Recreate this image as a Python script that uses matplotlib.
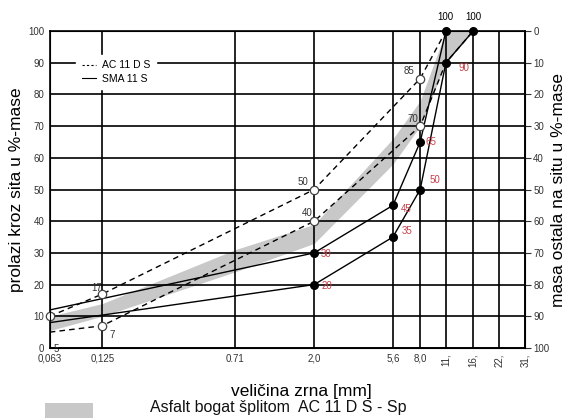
import matplotlib.pyplot as plt
import matplotlib.patches as mpatches
from matplotlib.lines import Line2D

plt.rcParams['font.family'] = ['Liberation Sans', 'DejaVu Sans']

# sita (mm)
sieves = [0.063, 0.125, 0.71, 2.0, 5.6, 8.0, 11.2, 16.0, 22.4, 31.5]
sieve_labels = ['0,063', '0,125', '0.71', '2,0', '5,6', '8,0', '11,', '16,', '22,', '31,']

# AC 11 D S granicne krivulje
ac_x_up = [0.063, 0.125, 2.0, 8.0, 11.2, 16.0]
ac_up = [10, 17, 50, 85, 100, 100]
ac_x_lo = [0.063, 0.125, 2.0, 8.0, 11.2, 16.0]
ac_lo = [5, 7, 40, 70, 90, 100]

# SMA 11 S granicne krivulje
sma_x_up = [0.063, 2.0, 5.6, 8.0, 11.2]
sma_up = [12, 30, 45, 65, 100]
sma_x_lo = [0.063, 2.0, 5.6, 8.0, 11.2, 16.0]
sma_lo = [8, 20, 35, 50, 90, 100]

# podrucje AC 11 D S - Sp
band_x = [0.063, 0.125, 0.71, 2.0, 5.6, 8.0, 11.2, 16.0]
band_up = [10, 14, 31, 39, 66, 78, 100, 100]
band_lo = [5.5, 10, 24, 33, 58, 70, 90, 100]

fig = plt.figure(figsize=(5.66, 4.18), dpi=100)
ax = fig.add_axes([0.088, 0.1675, 0.8395, 0.7583])

ax.fill_between(band_x, band_lo, band_up, color='#c8c8c8', lw=0, zorder=1)

ax.plot(ac_x_up, ac_up, ls=(0, (4, 3)), color='black', lw=1.0, zorder=3)
ax.plot(ac_x_lo, ac_lo, ls=(0, (4, 3)), color='black', lw=1.0, zorder=3)
ax.plot(sma_x_up, sma_up, color='black', lw=1.0, zorder=3)
ax.plot(sma_x_lo, sma_lo, color='black', lw=1.0, zorder=3)

# otvoreni kruzici AC
ax.plot(ac_x_up, ac_up, ls='none', marker='o', ms=6, mfc='white', mec='#444444',
        mew=0.9, markevery=[0, 1, 2, 3], zorder=4, clip_on=False)
ax.plot(ac_x_lo, ac_lo, ls='none', marker='o', ms=6, mfc='white', mec='#444444',
        mew=0.9, markevery=[1, 2, 3], zorder=4)
# puni kruzici SMA
ax.plot(sma_x_up, sma_up, ls='none', marker='o', ms=5.5, color='black',
        markevery=[1, 2, 3, 4], zorder=5, clip_on=False)
ax.plot(sma_x_lo, sma_lo, ls='none', marker='o', ms=5.5, color='black',
        markevery=[1, 2, 3, 4, 5], zorder=5, clip_on=False)

# oznake vrijednosti
lab = dict(textcoords='offset points', fontsize=7, zorder=6)
ax.annotate(str(ac_up[1]), (ac_x_up[1], ac_up[1]), xytext=(-8, 2), color='#333333', **lab)
ax.annotate(str(ac_lo[1]), (ac_x_lo[1], ac_lo[1]), xytext=(5, -9), color='#333333', **lab)
ax.annotate(str(ac_lo[0]), (ac_x_lo[0], ac_lo[0]), xytext=(3, -14), color='#333333', **lab)
ax.annotate(str(ac_up[2]), (ac_x_up[2], ac_up[2]), xytext=(-12, 3), color='#333333', **lab)
ax.annotate(str(ac_lo[2]), (ac_x_lo[2], ac_lo[2]), xytext=(-9, 4), color='#333333', **lab)
ax.annotate(str(ac_up[3]), (ac_x_up[3], ac_up[3]), xytext=(-12, 3), color='#333333', **lab)
ax.annotate(str(ac_lo[3]), (ac_x_lo[3], ac_lo[3]), xytext=(-9, 3), color='#333333', **lab)

red = '#c8404a'
ax.annotate(str(sma_lo[1]), (sma_x_lo[1], sma_lo[1]), xytext=(5, -3), color=red, **lab)
ax.annotate(str(sma_up[1]), (sma_x_up[1], sma_up[1]), xytext=(5, -3), color=red, **lab)
ax.annotate(str(sma_lo[2]), (sma_x_lo[2], sma_lo[2]), xytext=(6, 2), color=red, **lab)
ax.annotate(str(sma_up[2]), (sma_x_up[2], sma_up[2]), xytext=(6, -5), color=red, **lab)
ax.annotate(str(sma_lo[3]), (sma_x_lo[3], sma_lo[3]), xytext=(7, 5), color=red, **lab)
ax.annotate(str(sma_up[3]), (sma_x_up[3], sma_up[3]), xytext=(4, -2), color=red, **lab)
ax.annotate(str(sma_lo[4]), (sma_x_lo[4], sma_lo[4]), xytext=(9, -6), color=red, **lab)
ax.annotate(str(sma_up[4]), (sma_x_up[4], sma_up[4]), xytext=(-6, 8), color='black',
            annotation_clip=False, **lab)
ax.annotate(str(sma_lo[5]), (sma_x_lo[5], sma_lo[5]), xytext=(-6, 8), color='black',
            annotation_clip=False, **lab)

ax.set_xscale('log')
ax.set_xlim(0.063, 31.5)
ax.set_ylim(0, 100)
ax.set_xticks(sieves)
ax.set_xticklabels(sieve_labels)
ax.xaxis.set_minor_locator(plt.NullLocator())
for t in ax.get_xticklabels()[6:]:
    t.set_rotation(90)
ax.set_yticks(range(0, 101, 10))
ax.tick_params(axis='both', labelsize=7, colors='#333333', length=0, pad=4)
ax.grid(True, color='black', lw=1.2)
for s in ax.spines.values():
    s.set_linewidth(1.2)
ax.set_axisbelow(False)
for gl in ax.get_xgridlines() + ax.get_ygridlines():
    gl.set_zorder(2)

ax.set_xlabel('veličina zrna [mm]', fontsize=12.5)
ax.xaxis.set_label_coords(0.53, -0.115)
ax.set_ylabel('prolazi kroz sita u %-mase', fontsize=12.5, labelpad=3)

ax2 = ax.twinx()
ax2.set_ylim(100, 0)
ax2.set_yticks(range(0, 101, 10))
ax2.tick_params(axis='y', labelsize=7, colors='#333333', length=4, width=0.8, pad=2)
ax2.set_ylabel('masa ostala na situ u %-mase', fontsize=12.5, labelpad=1)

handles = [Line2D([], [], ls=(0, (2, 2)), color='black', lw=0.8),
           Line2D([], [], color='black', lw=0.8)]
leg = ax.legend(handles, ['AC 11 D S', 'SMA 11 S'], loc='upper left',
                bbox_to_anchor=(0.045, 0.94), frameon=True, fontsize=7.5,
                handlelength=1.4, handletextpad=0.6, borderpad=0.5,
                labelspacing=0.3, fancybox=False)
leg.get_frame().set_edgecolor('white')
leg.get_frame().set_facecolor('white')
leg.get_frame().set_alpha(1)
leg.set_zorder(10)

fig.patches.append(mpatches.Rectangle((0.08, -0.01), 0.085, 0.045, transform=fig.transFigure,
                                      color='#c8c8c8', lw=0))
fig.text(0.265, 0.014, 'Asfalt bogat šplitom  AC 11 D S - Sp', fontsize=11.5,
         color='#111111')

fig.savefig('out.png', dpi=100)
